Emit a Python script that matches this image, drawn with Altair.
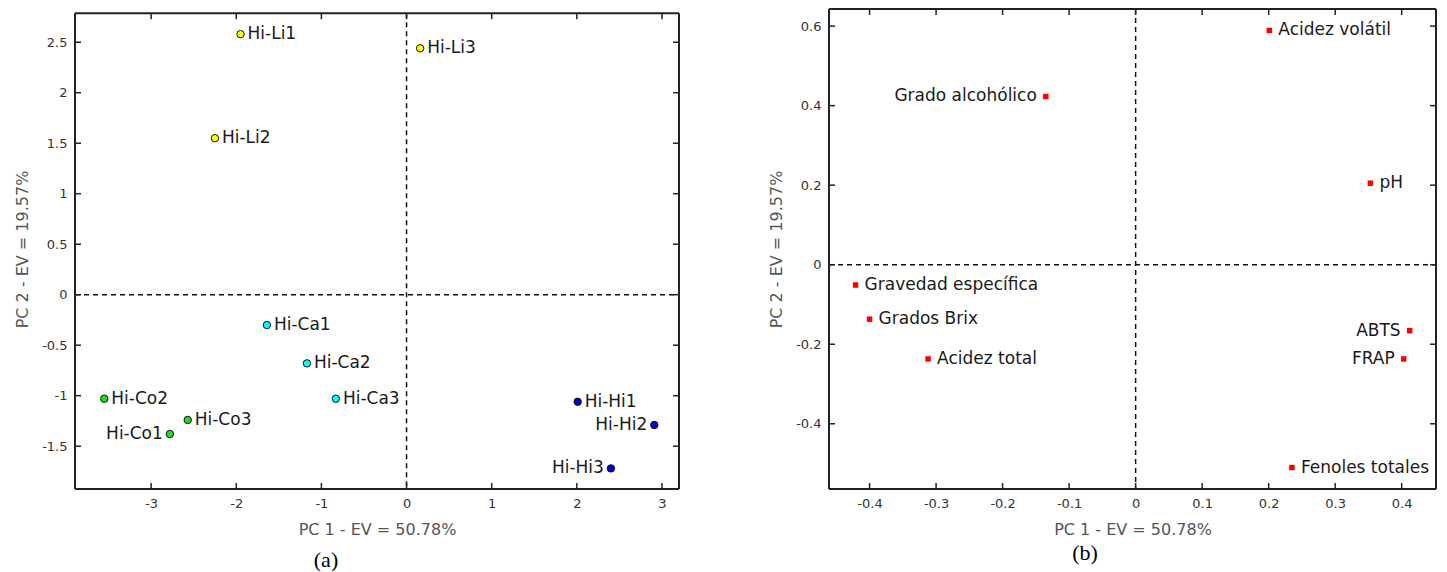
import altair as alt
import pandas as pd

# ---------------- Panel (a): scores ----------------
a_names = ["Hi-Li1", "Hi-Li2", "Hi-Li3", "Hi-Ca1", "Hi-Ca2", "Hi-Ca3",
           "Hi-Co1", "Hi-Co2", "Hi-Co3", "Hi-Hi1", "Hi-Hi2", "Hi-Hi3"]
a_pc1 = [-1.95, -2.25, 0.16, -1.64, -1.17, -0.83, -2.78, -3.55, -2.57, 2.01, 2.91, 2.40]
a_pc2 = [2.58, 1.55, 2.44, -0.30, -0.68, -1.03, -1.38, -1.03, -1.24, -1.06, -1.29, -1.72]
a_group = ["Li", "Li", "Li", "Ca", "Ca", "Ca", "Co", "Co", "Co", "Hi", "Hi", "Hi"]
a_side = ["right", "right", "right", "right", "right", "right",
          "left", "right", "right", "right", "left", "left"]
group_names = ["Li", "Ca", "Co", "Hi"]
group_colors = ["#ffff00", "#00ffff", "#22dd22", "#0000cc"]
a_xticks = [-3, -2, -1, 0, 1, 2, 3]
a_yticks = [-1.5, -1, -0.5, 0, 0.5, 1, 1.5, 2, 2.5]
a_xdomain = [-3.894, 3.2]
a_ydomain = [-1.924, 2.829]

# ---------------- Panel (b): loadings ----------------
b_names = ["Acidez volátil", "Grado alcohólico", "pH", "Gravedad específica",
           "Grados Brix", "Acidez total", "ABTS", "FRAP", "Fenoles totales"]
b_pc1 = [0.201, -0.135, 0.353, -0.421, -0.400, -0.312, 0.412, 0.403, 0.235]
b_pc2 = [0.589, 0.423, 0.205, -0.051, -0.137, -0.237, -0.166, -0.237, -0.510]
b_side = ["right", "left", "right", "right", "right", "right", "left", "left", "right"]
b_xticks = [-0.4, -0.3, -0.2, -0.1, 0, 0.1, 0.2, 0.3, 0.4]
b_yticks = [-0.4, -0.2, 0, 0.2, 0.4, 0.6]
b_xdomain = [-0.461, 0.4516]
b_ydomain = [-0.564, 0.643]

x_title = "PC 1 - EV = 50.78%"
y_title = "PC 2 - EV = 19.57%"

FONT = "DejaVu Sans"
FRAME = "#222222"


def make_axis(values, title):
    return alt.Axis(values=values, title=title, grid=False, ticks=False, domain=False,
                    labelExpr="'' + datum.value", labelPadding=8, titlePadding=11,
                    labelFont=FONT, labelFontSize=13, labelColor="#333333",
                    titleFont=FONT, titleFontSize=16, titleFontWeight="normal",
                    titleColor="#555555", labelFlush=False, labelOverlap=False)


def panel(df, xdom, ydom, xt, yt, W, H, ft, point_layer, dx, caption, cap_x, cap_y):
    xs = alt.Scale(domain=xdom, nice=False, zero=False)
    ys = alt.Scale(domain=ydom, nice=False, zero=False)
    xa = make_axis(xt, x_title)
    ya = make_axis(yt, y_title)
    xt_df = pd.DataFrame({"t": xt})
    yt_df = pd.DataFrame({"t": yt})
    one = pd.DataFrame({"k": [0]})
    tick_style = dict(color=FRAME, strokeWidth=1.5)

    pts = point_layer(alt.Chart(df)).encode(
        x=alt.X("pc1:Q", scale=xs, axis=xa),
        y=alt.Y("pc2:Q", scale=ys, axis=ya))

    # frame
    fr = dict(color=FRAME, strokeWidth=2)
    f_top = alt.Chart(one).mark_rule(**fr).encode(x=alt.value(0), x2=alt.value(W), y=alt.value(ft))
    f_bot = alt.Chart(one).mark_rule(**fr).encode(x=alt.value(0), x2=alt.value(W), y=alt.value(H))
    f_lef = alt.Chart(one).mark_rule(**fr).encode(x=alt.value(0), y=alt.value(ft), y2=alt.value(H))
    f_rig = alt.Chart(one).mark_rule(**fr).encode(x=alt.value(W), y=alt.value(ft), y2=alt.value(H))

    # inward ticks on all four sides
    bottom = alt.Chart(xt_df).mark_rule(**tick_style).encode(
        x=alt.X("t:Q", scale=xs, axis=xa), y=alt.value(H), y2=alt.value(H - 6))
    top = alt.Chart(xt_df).mark_rule(**tick_style).encode(
        x=alt.X("t:Q", scale=xs, axis=xa), y=alt.value(ft), y2=alt.value(ft + 6))
    left = alt.Chart(yt_df).mark_rule(**tick_style).encode(
        y=alt.Y("t:Q", scale=ys, axis=ya), x=alt.value(0), x2=alt.value(6))
    right = alt.Chart(yt_df).mark_rule(**tick_style).encode(
        y=alt.Y("t:Q", scale=ys, axis=ya), x=alt.value(W), x2=alt.value(W - 6))

    zero_df = pd.DataFrame({"pc1": [0], "pc2": [0]})
    dash = dict(strokeDash=[5, 4], color="#111111", strokeWidth=1.5)
    vline = alt.Chart(zero_df).mark_rule(**dash).encode(
        x=alt.X("pc1:Q", scale=xs, axis=xa), y=alt.value(ft), y2=alt.value(H))
    hline = alt.Chart(zero_df).mark_rule(**dash).encode(
        y=alt.Y("pc2:Q", scale=ys, axis=ya), x=alt.value(0), x2=alt.value(W))

    text_style = dict(font=FONT, fontSize=17, color="#1a1a1a", baseline="middle")
    lab_r = alt.Chart(df).transform_filter(alt.datum.side == "right").mark_text(
        align="left", dx=dx, **text_style).encode(
        x=alt.X("pc1:Q", scale=xs, axis=xa), y=alt.Y("pc2:Q", scale=ys, axis=ya), text="name:N")
    lab_l = alt.Chart(df).transform_filter(alt.datum.side == "left").mark_text(
        align="right", dx=-dx, **text_style).encode(
        x=alt.X("pc1:Q", scale=xs, axis=xa), y=alt.Y("pc2:Q", scale=ys, axis=ya), text="name:N")

    cap = alt.Chart(pd.DataFrame({"c": [caption]})).mark_text(
        font="Liberation Serif", fontSize=22, color="#000000", baseline="middle", align="center").encode(
        text="c:N", x=alt.value(cap_x), y=alt.value(cap_y))

    return alt.layer(pts, vline, hline, bottom, top, left, right,
                     f_top, f_bot, f_lef, f_rig, lab_r, lab_l, cap).properties(width=W, height=H)


df_a = pd.DataFrame({"name": a_names, "pc1": a_pc1, "pc2": a_pc2, "group": a_group, "side": a_side})
df_b = pd.DataFrame({"name": b_names, "pc1": b_pc1, "pc2": b_pc2, "side": b_side})


def a_points(c):
    return c.mark_circle(size=55, opacity=1, stroke="#111111", strokeWidth=1).encode(
        color=alt.Color("group:N", scale=alt.Scale(domain=group_names, range=group_colors), legend=None))


def b_points(c):
    return c.mark_square(size=30, opacity=1, color="#ff0000")


chart_a = panel(df_a, a_xdomain, a_ydomain, a_xticks, a_yticks, 604, 480, 4.2, a_points, 7,
                "(a)", 251, 480 + 71)
chart_b = panel(df_b, b_xdomain, b_ydomain, b_xticks, b_yticks, 607, 480, 0, b_points, 9,
                "(b)", 256, 480 + 64)

chart = alt.hconcat(chart_a, chart_b, spacing=88).properties(
    padding={"left": 6, "top": 0, "right": 0, "bottom": 0}
).configure_view(stroke="transparent", strokeWidth=0)

chart.save("out.html", embed_options={"renderer": "svg", "actions": False})
